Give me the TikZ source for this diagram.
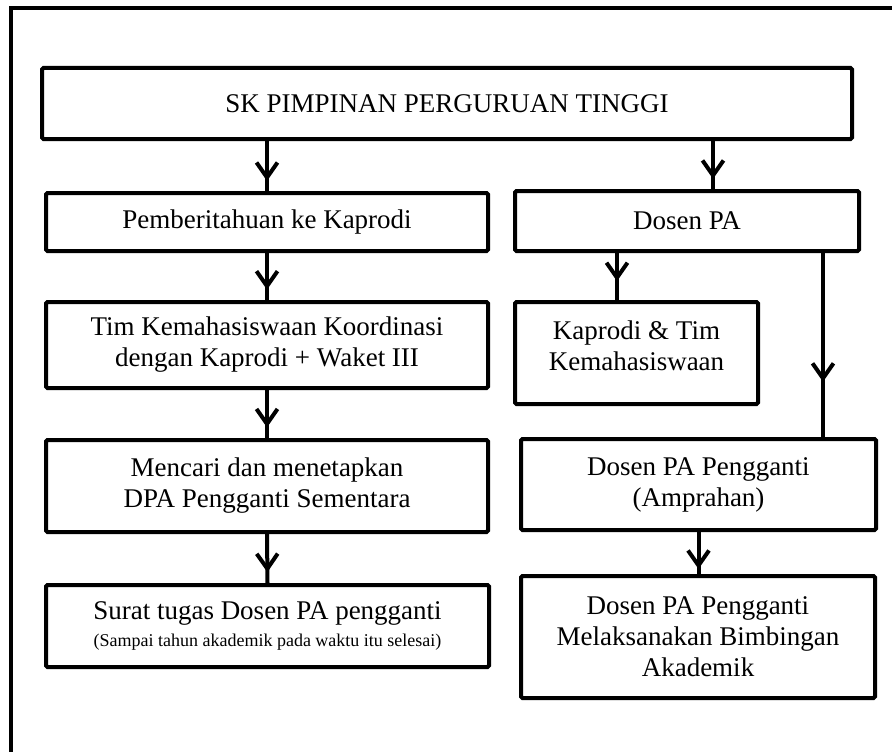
\documentclass[tikz,border=0pt]{standalone}
\usepackage{fontspec}
\setmainfont{Liberation Serif}
\usetikzlibrary{arrows.meta,decorations.markings,calc}
\begin{document}
\begin{tikzpicture}[x=1pt,y=-1pt,
  box/.style={draw, line width=4pt, rounded corners=1.5pt, align=center, inner sep=0pt, font=\fontsize{27}{31}\selectfont},
  conn/.style={line width=4pt},
  arrowat/.style={postaction={decorate}, decoration={markings, mark=at position #1 with {\arrow{Straight Barb[length=15pt,width=21pt]}}}}
]
\useasboundingbox (0,0) rectangle (892,752);
\clip (0,0) rectangle (892,752);
\draw[line width=4.5pt] (11,8) rectangle (910,770);

\node[box, minimum width=810pt, minimum height=71pt] (top) at (447,103.5) {SK PIMPINAN PERGURUAN TINGGI};
\node[box, minimum width=442pt, minimum height=58pt] (pem) at (267,222) {Pemberitahuan ke Kaprodi};
\node[box, minimum width=344pt, minimum height=60pt] (dpa) at (687,221) {Dosen PA};
\node[box, minimum width=442pt, minimum height=86pt] (tim) at (267,345) {Tim Kemahasiswaan Koordinasi\\dengan Kaprodi + Waket III};
\node[box, minimum width=243pt, minimum height=102pt] (kap) at (636.5,353) {Kaprodi \& Tim\\Kemahasiswaan\\[-16pt]\mbox{}};
\node[box, minimum width=442pt, minimum height=92pt] (men) at (267,486) {Mencari dan menetapkan\\DPA Pengganti Sementara};
\node[box, minimum width=355pt, minimum height=91pt] (amp) at (698.5,484.5) {Dosen PA Pengganti\\(Amprahan)};
\node[box, minimum width=443pt, minimum height=82pt] (sur) at (267.5,626) {Surat tugas Dosen PA pengganti\\[-4pt]{\fontsize{18}{22}\selectfont (Sampai tahun akademik pada waktu itu selesai)}};
\node[box, minimum width=354pt, minimum height=122pt] (mel) at (698,637) {Dosen PA Pengganti\\Melaksanakan Bimbingan\\Akademik};

\draw[conn, arrowat=0.8] (top.south -| pem.north) -- (pem.north);
\path ([xshift=26pt]dpa.north) coordinate (d1);
\draw[conn, arrowat=0.79] (top.south -| d1) -- (d1);
\draw[conn, arrowat=0.78] (pem.south) -- (tim.north);
\path ([xshift=-19.5pt]kap.north) coordinate (k1);
\draw[conn, arrowat=0.6] (dpa.south -| k1) -- (k1);
\path ([xshift=136pt]dpa.south) coordinate (d2);
\draw[conn, arrowat=0.7] (d2) -- (amp.north -| d2);
\draw[conn, arrowat=0.78] (tim.south) -- (men.north);
\draw[conn, arrowat=0.78] (men.south) -- (sur.north);
\draw[conn, arrowat=0.88] (amp.south) -- (amp.south |- mel.north);
\end{tikzpicture}
\end{document}
